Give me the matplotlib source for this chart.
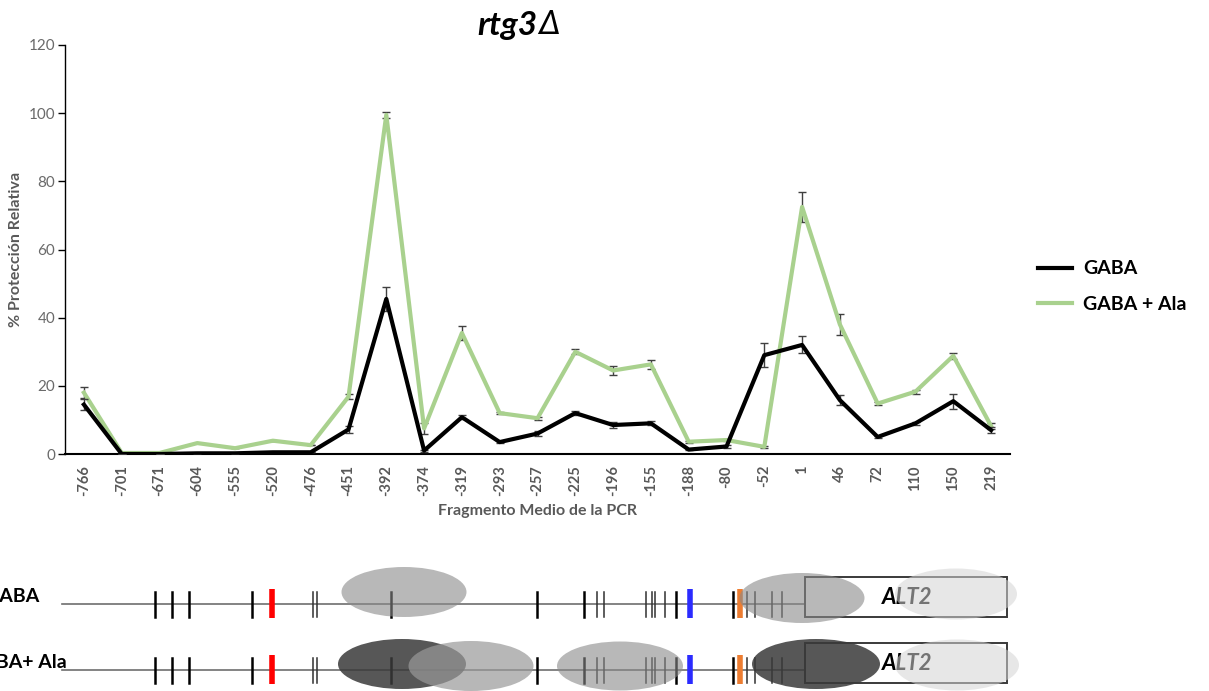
import matplotlib.pyplot as plt
from matplotlib.patches import Ellipse, Rectangle
from matplotlib.lines import Line2D

plt.rcParams['font.family'] = ['Lato', 'DejaVu Sans']

# fragmentos de PCR (punto medio)
fragmentos = ['-766', '-701', '-671', '-604', '-555', '-520', '-476', '-451', '-392', '-374',
              '-319', '-293', '-257', '-225', '-196', '-155', '-188', '-80', '-52', '1',
              '46', '72', '110', '150', '219']

gaba = [14.5, 0, 0, 0.2, 0.2, 0.5, 0.5, 7.2, 45.5, 1, 10.8, 3.5, 6, 12, 8.5, 9,
        1.3, 2.2, 29, 32, 15.8, 5, 9, 15.5, 7]
gaba_err = [1.5, 0, 0, 0, 0, 0, 0, 0.9, 3.5, 0.3, 0.5, 0.3, 0.8, 0.7, 0.8, 0.6,
            0.2, 0.3, 3.5, 2.5, 1.5, 0.4, 0.5, 2.2, 0.9]

gaba_ala = [18, 0.3, 0.3, 3.2, 1.7, 3.9, 2.6, 16.8, 99.5, 7.5, 35.5, 12, 10.5, 30,
            24.5, 26.3, 3.6, 4.1, 2.1, 72.5, 38, 14.8, 18.3, 28.8, 8.2]
gaba_ala_err = [1.7, 0, 0, 0, 0, 0, 0, 0.8, 0.8, 1.5, 2, 0.4, 0.4, 0.8, 1.2, 1.3,
                0.3, 0.3, 0.3, 4.5, 3, 0.5, 0.6, 0.8, 0.8]

# esquema del promotor de ALT2 (posiciones en px del esquema)
cajas_negras = [155, 172, 189, 252, 390.6, 536.7, 584, 675.7, 733.3]
cajas_finas = [313, 316.7, 596.7, 604, 645.7, 652.3, 655, 665, 746.7, 755, 771.7, 781.7]
cajas_color = [(271.7, '#ff0000'), (690, '#2b2bff'), (740, '#ed7d31')]

# (x, y relativo a la linea, ancho, alto, color, alpha)
proteccion_gaba = [(404, -12, 125, 50, '#8a8a8a', 0.6),
                   (802, -6, 125, 50, '#8a8a8a', 0.6),
                   (956, -10, 122, 51, '#d4d4d4', 0.55)]
proteccion_ala = [(402, -6, 128, 50, '#3a3a3a', 0.85),
                  (471, -4, 125, 50, '#999999', 0.7),
                  (620, -4, 126, 49, '#8a8a8a', 0.6),
                  (816, -6, 128, 50, '#3a3a3a', 0.85),
                  (957, -5, 124, 51, '#d4d4d4', 0.55)]

fig = plt.figure(figsize=(12.09, 6.91), dpi=100)

# --- esquema ---
esq = fig.add_axes([0, 0, 1, 1])
esq.set_xlim(0, 1209)
esq.set_ylim(691, 0)
esq.axis('off')


def fila(y0, proteccion, etiqueta, x_etiqueta):
    esq.plot([62, 805], [y0, y0], color='#6e6e6e', lw=1.2, zorder=1)
    for x in cajas_negras:
        esq.plot([x, x], [y0 - 12, y0 + 12.5], color='black', lw=1.8, zorder=2)
    for x in cajas_finas:
        esq.plot([x, x], [y0 - 12, y0 + 12.5], color='#303030', lw=1.1, zorder=2)
    for x, c in cajas_color:
        esq.plot([x, x], [y0 - 15, y0 + 14], color=c, lw=4, zorder=2,
                 solid_capstyle='butt')
    esq.add_patch(Rectangle((805, y0 - 27), 202, 40, facecolor='white',
                            edgecolor='#3a3a3a', lw=1.4, zorder=3))
    esq.text(882, y0 - 7, 'ALT2', fontsize=16, fontweight='bold', fontstyle='italic',
             ha='left', va='center', color='black', zorder=4)
    for x, dy, w, h, c, a in proteccion:
        esq.add_patch(Ellipse((x, y0 + dy), w, h, facecolor=c, edgecolor='none',
                              alpha=a, zorder=5))
    esq.text(x_etiqueta, y0 - 8, etiqueta, fontsize=14, fontweight='bold',
             ha='right', va='center', color='black', zorder=6)


fila(604, proteccion_gaba, 'GABA', 40)
fila(670, proteccion_ala, 'GABA+ Ala', 67)

# --- grafico de proteccion ---
ax = fig.add_axes([65 / 1209, 1 - 454 / 691, 945 / 1209, 409 / 691])
x = range(len(fragmentos))
ax.errorbar(x, gaba, yerr=gaba_err, color='black', lw=3, ecolor='#404040',
            elinewidth=1, capsize=3, capthick=1, zorder=3)
ax.errorbar(x, gaba_ala, yerr=gaba_ala_err, color='#a9d18e', lw=3, ecolor='#404040',
            elinewidth=1, capsize=3, capthick=1, zorder=2)

ax.set_xlim(-0.5, len(fragmentos) - 0.5)
ax.set_ylim(0, 120)
ax.set_yticks(range(0, 121, 20))
ax.set_xticks(list(x))
ax.set_xticklabels(fragmentos, rotation=90, fontweight='bold', fontsize=10.5, color='#595959')
ax.tick_params(axis='x', length=0, pad=8)
ax.tick_params(axis='y', length=5, width=1, colors='black', labelcolor='#6a6a6a',
               labelsize=11, pad=2)
for s in ['top', 'right']:
    ax.spines[s].set_visible(False)
ax.spines['left'].set_linewidth(1)
ax.spines['bottom'].set_linewidth(1.5)

ax.set_ylabel('% Protección Relativa', fontsize=11.5, fontweight='bold', color='#595959')
ax.yaxis.set_label_coords(-42 / 945, 0.5)
ax.set_xlabel('Fragmento Medio de la PCR', fontsize=11.5, fontweight='bold', color='#595959',
              labelpad=6)

handles = [Line2D([], [], color='black', lw=3), Line2D([], [], color='#a9d18e', lw=3)]
fig.legend(handles, ['GABA', 'GABA + Ala'], loc='upper left',
           bbox_to_anchor=(1020 / 1209, 1 - 243 / 691), frameon=False,
           prop={'weight': 'bold', 'size': 14}, handlelength=1.75, handletextpad=0.6,
           labelspacing=0.95)

# titulo: nombre en negrita cursiva y delta fina
fig.text(537 / 1209, 1 - 25 / 691, 'rtg3', fontsize=24, fontweight='bold',
         fontstyle='italic', ha='right', va='center')
fig.text(538 / 1209, 1 - 25 / 691, 'Δ', fontsize=24, fontstyle='italic',
         ha='left', va='center')

fig.savefig('out.png', dpi=100)
